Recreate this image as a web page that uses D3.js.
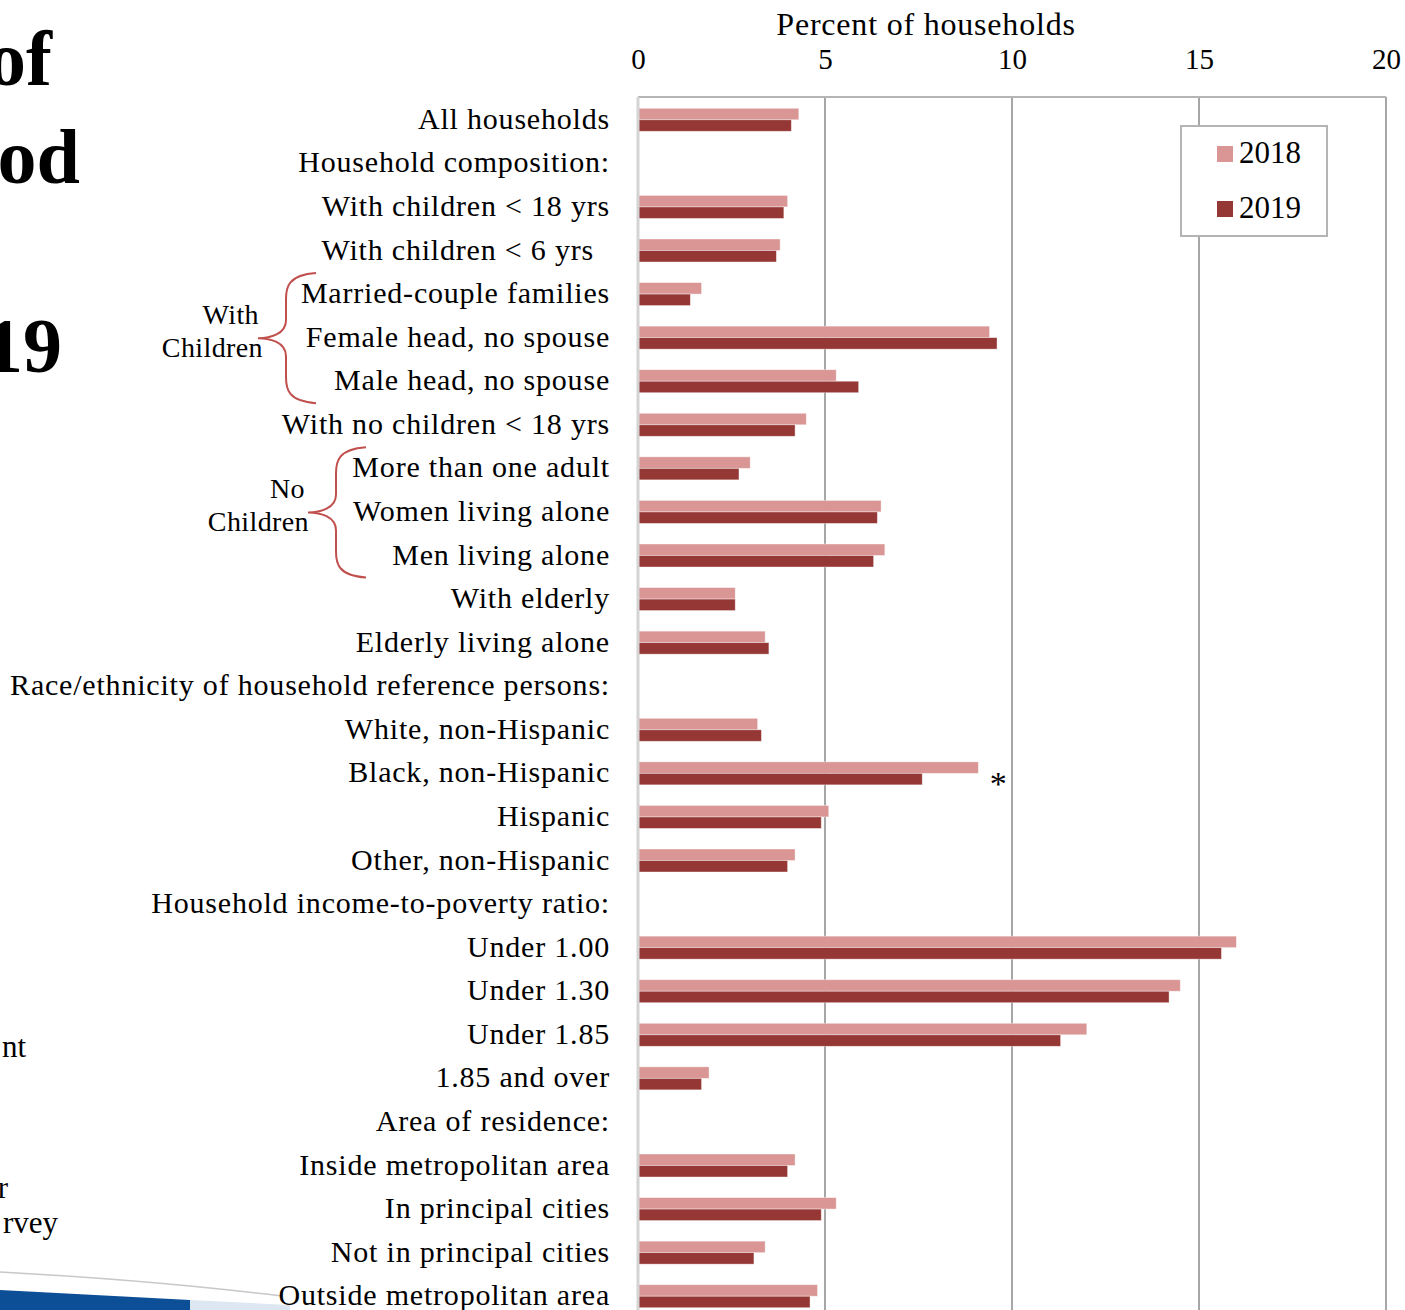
<!DOCTYPE html>
<html lang="en">
<head>
<meta charset="utf-8">
<title>Food insecurity by household type</title>
<script src="https://d3js.org/d3.v7.min.js"></script>
<style>
  body { margin: 0; background: #fff; }
  svg { display: block; font-family: "Liberation Serif", "Times New Roman", serif; }
</style>
</head>
<body>
<div id="chart"></div>
<script>
// categories, top to bottom (headers have no bars)
var categories = [
  "All households", "Household composition:", "With children < 18 yrs", "With children < 6 yrs",
  "Married-couple families", "Female head, no spouse", "Male head, no spouse",
  "With no children < 18 yrs", "More than one adult", "Women living alone", "Men living alone",
  "With elderly", "Elderly living alone", "Race/ethnicity of household reference persons:",
  "White, non-Hispanic", "Black, non-Hispanic", "Hispanic", "Other, non-Hispanic",
  "Household income-to-poverty ratio:", "Under 1.00", "Under 1.30", "Under 1.85", "1.85 and over",
  "Area of residence:", "Inside metropolitan area", "In principal cities",
  "Not in principal cities", "Outside metropolitan area"
];
var years = ["2018", "2019"];
// percent of households, null for header rows
var values2018 = [4.3, null, 4.0, 3.8, 1.7, 9.4, 5.3, 4.5, 3.0, 6.5, 6.6, 2.6, 3.4, null,
  3.2, 9.1, 5.1, 4.2, null, 16.0, 14.5, 12.0, 1.9, null, 4.2, 5.3, 3.4, 4.8];
var values2019 = [4.1, null, 3.9, 3.7, 1.4, 9.6, 5.9, 4.2, 2.7, 6.4, 6.3, 2.6, 3.5, null,
  3.3, 7.6, 4.9, 4.0, null, 15.6, 14.2, 11.3, 1.7, null, 4.0, 4.9, 3.1, 4.6];
var xTicks = [0, 5, 10, 15, 20];
var significant = ["Black, non-Hispanic"];
var groups = [
  { label: ["With", "Children"], from: "Married-couple families", to: "Male head, no spouse" },
  { label: ["No", "Children"], from: "More than one adult", to: "Men living alone" }
];

var colors = { "2018": "#d99694", "2019": "#953735" };

var W = 1405, H = 1310;
var svg = d3.select("#chart").append("svg").attr("width", W).attr("height", H);

var x = d3.scaleLinear().domain([0, 20]).range([638, 1386]);
var y = d3.scaleBand().domain(categories).range([98, 1318]).paddingInner(0.472).paddingOuter(0.236);
var yy = d3.scaleBand().domain(years).range([0, y.bandwidth()]);

// leftover slide pieces on the left
var slide = svg.append("g");
slide.append("path")
  .attr("d", "M0,1272 Q150,1280 282,1296")
  .attr("fill", "none").attr("stroke", "#c8c8c8").attr("stroke-width", 1.5);
slide.append("path")
  .attr("d", "M0,1290 L190,1300 L190,1310 L0,1310 Z").attr("fill", "#0d4f96");
slide.append("path")
  .attr("d", "M190,1300 L290,1305 L290,1310 L190,1310 Z").attr("fill", "#dde7f2");
[["of", 52, 85], ["od", 80, 183], ["19", 62, 372]].forEach(function (t) {
  slide.append("text").attr("x", t[1]).attr("y", t[2]).attr("text-anchor", "end")
    .attr("font-size", 78).attr("font-weight", "bold").text(t[0]);
});
[["nt", 26, 1057], ["r", 8, 1198], ["rvey", 58, 1233]].forEach(function (t) {
  slide.append("text").attr("x", t[1]).attr("y", t[2]).attr("text-anchor", "end")
    .attr("font-size", 31).text(t[0]);
});

// gridlines
svg.append("g").selectAll("line").data(xTicks.slice(1)).join("line")
  .attr("x1", function (d) { return x(d); }).attr("x2", function (d) { return x(d); })
  .attr("y1", 97).attr("y2", H)
  .attr("stroke", "#a6a6a6").attr("stroke-width", 2);
svg.append("line").attr("x1", 638).attr("x2", 1386).attr("y1", 97).attr("y2", 97)
  .attr("stroke", "#b4b4b4").attr("stroke-width", 2);

// bars
var rows = categories.map(function (c, i) {
  return { cat: c, v: { "2018": values2018[i], "2019": values2019[i] } };
}).filter(function (d) { return d.v["2018"] != null; });

var rowG = svg.append("g").selectAll("g").data(rows).join("g")
  .attr("transform", function (d) { return "translate(0," + y(d.cat) + ")"; });
rowG.selectAll("rect").data(function (d) {
  return years.map(function (yr) { return { yr: yr, v: d.v[yr] }; });
}).join("rect")
  .attr("x", x(0))
  .attr("y", function (d) { return yy(d.yr); })
  .attr("width", function (d) { return x(d.v) - x(0); })
  .attr("height", yy.bandwidth())
  .attr("fill", function (d) { return colors[d.yr]; })
  .attr("stroke", "#fff").attr("stroke-opacity", 0.5).attr("stroke-width", 0.8);

// left axis line
svg.append("line").attr("x1", 638).attr("x2", 638).attr("y1", 97).attr("y2", H)
  .attr("stroke", "#d4d4d4").attr("stroke-width", 3);

// significance mark
svg.append("g").selectAll("text").data(significant).join("text")
  .attr("x", function (d) { return x(values2018[categories.indexOf(d)]) + 20; })
  .attr("y", function (d) { return y(d) + y.bandwidth() / 2 + 22; })
  .attr("text-anchor", "middle").attr("font-size", 34).text("*");

// top axis
var xAxis = d3.axisTop(x).tickValues(xTicks).tickSize(0).tickPadding(0);
var ax = svg.append("g").attr("transform", "translate(0,69)").call(xAxis);
ax.select(".domain").remove();
ax.selectAll("text").attr("font-family", "Liberation Serif").attr("font-size", 29)
  .attr("fill", "#000").attr("dy", 0);
svg.append("text").attr("x", 926).attr("y", 35).attr("text-anchor", "middle")
  .attr("font-size", 32).attr("letter-spacing", 0.8).text("Percent of households");

// category labels
svg.append("g").selectAll("text").data(categories).join("text")
  .attr("x", function (d) { return d === "With children < 6 yrs" ? 594 : 610; })
  .attr("y", function (d) { return y(d) + y.bandwidth() / 2 + 9; })
  .attr("text-anchor", "end").attr("font-size", 30).attr("letter-spacing", 0.8)
  .text(function (d) { return d; });

// group braces
groups.forEach(function (g) {
  var top = y(g.from) + y.bandwidth() / 2 - 21;
  var bot = y(g.to) + y.bandwidth() / 2 + 22;
  var mid = (top + bot) / 2;
  var xe = g.label[0] === "With" ? 316 : 366;
  var xv = xe - 30, xp = xe - 58;
  svg.append("path")
    .attr("d", "M" + xe + "," + top +
      " C" + (xv + 2) + "," + (top + 2) + " " + xv + "," + (top + 14) + " " + xv + "," + (top + 26) +
      " L" + xv + "," + (mid - 18) +
      " C" + xv + "," + (mid - 4) + " " + (xp + 12) + "," + mid + " " + xp + "," + mid +
      " C" + (xp + 12) + "," + mid + " " + xv + "," + (mid + 4) + " " + xv + "," + (mid + 18) +
      " L" + xv + "," + (bot - 26) +
      " C" + xv + "," + (bot - 14) + " " + (xv + 2) + "," + (bot - 2) + " " + xe + "," + bot)
    .attr("fill", "none").attr("stroke", "#c0504d").attr("stroke-width", 2);
  var dx = g.label[0] === "With" ? 0 : -4;
  svg.append("text").attr("x", xp + 1 + dx).attr("y", mid - 14).attr("text-anchor", "end")
    .attr("font-size", 28).attr("letter-spacing", 0.4).text(g.label[0]);
  svg.append("text").attr("x", xp + 5 + dx).attr("y", mid + 19).attr("text-anchor", "end")
    .attr("font-size", 28).attr("letter-spacing", 0.4).text(g.label[1]);
});

// legend
var lg = svg.append("g").attr("transform", "translate(1181,126)");
lg.append("rect").attr("width", 146).attr("height", 110)
  .attr("fill", "#fff").attr("stroke", "#b4b4b4").attr("stroke-width", 2);
lg.selectAll("g").data(years).join("g")
  .attr("transform", function (d, i) { return "translate(36," + (20 + i * 55) + ")"; })
  .each(function (d) {
    var g = d3.select(this);
    g.append("rect").attr("width", 16).attr("height", 16).attr("fill", colors[d]);
    g.append("text").attr("x", 22).attr("y", 17).attr("font-size", 31).text(d);
  });
</script>
</body>
</html>
